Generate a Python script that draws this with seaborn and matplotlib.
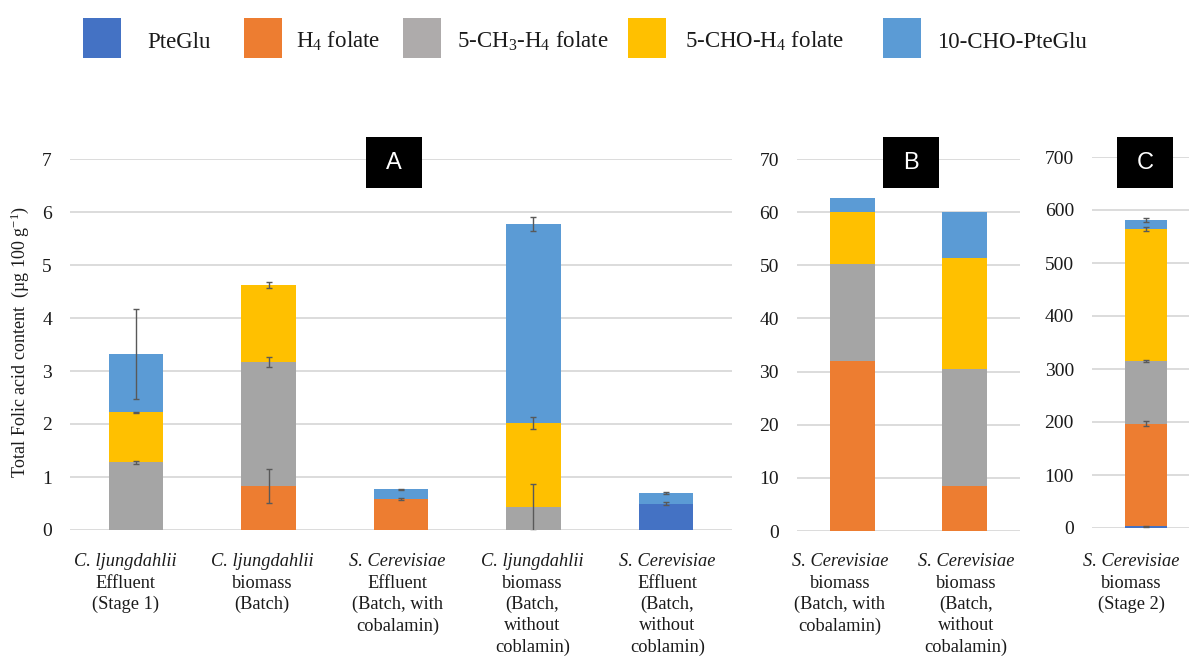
import numpy as np
import pandas as pd
import matplotlib
matplotlib.use("Agg")
import matplotlib.pyplot as plt
from matplotlib.patches import Rectangle
import seaborn as sns

# ---------------- data ----------------
series = ["PteGlu", "H$_4$ folate", "5-CH$_3$-H$_4$ folate", "5-CHO-H$_4$ folate", "10-CHO-PteGlu"]
colors = ["#4472C4", "#ED7D31", "#A5A5A5", "#FFC000", "#5B9BD5"]
legend_colors = ["#4472C4", "#ED7D31", "#AEABAB", "#FFC000", "#5B9BD5"]

cats_a = [
    "C. ljungdahlii\nEffluent\n(Stage 1)",
    "C. ljungdahlii\nbiomass\n(Batch)",
    "S. Cerevisiae\nEffluent\n(Batch, with\ncobalamin)",
    "C. ljungdahlii\nbiomass\n(Batch,\nwithout\ncoblamin)",
    "S. Cerevisiae\nEffluent\n(Batch,\nwithout\ncoblamin)",
]
# segment heights per series (PteGlu, H4, 5-CH3, 5-CHO, 10-CHO)
pteglu_a = [0.00, 0.00, 0.00, 0.00, 0.50]
h4_a     = [0.00, 0.83, 0.58, 0.00, 0.00]
ch3_a    = [1.28, 2.34, 0.00, 0.43, 0.00]
cho_a    = [0.94, 1.45, 0.00, 1.59, 0.00]
cho10_a  = [1.10, 0.00, 0.19, 3.76, 0.19]
# error (shown at segment top)
pteglu_a_err = [0, 0, 0, 0, 0.03]
h4_a_err     = [0, 0.32, 0.02, 0, 0]
ch3_a_err    = [0.03, 0.10, 0, 0.44, 0]
cho_a_err    = [0.015, 0.05, 0, 0.12, 0]
cho10_a_err  = [0.85, 0, 0.01, 0.13, 0.02]

cats_b = [
    "S. Cerevisiae\nbiomass\n(Batch, with\ncobalamin)",
    "S. Cerevisiae\nbiomass\n(Batch,\nwithout\ncobalamin)",
]
pteglu_b = [0.0, 0.0]
h4_b     = [31.9, 8.5]
ch3_b    = [18.4, 21.9]
cho_b    = [9.7, 20.9]
cho10_b  = [2.65, 8.8]

cats_c = ["S. Cerevisiae\nbiomass\n(Stage 2)"]
pteglu_c = [3]
h4_c     = [194]
ch3_c    = [118]
cho_c    = [249]
cho10_c  = [17]
pteglu_c_err = [1]
h4_c_err     = [5]
ch3_c_err    = [2]
cho_c_err    = [3]
cho10_c_err  = [3]

yticks_a = [0, 1, 2, 3, 4, 5, 6, 7]
yticks_b = [0, 10, 20, 30, 40, 50, 60, 70]
yticks_c = [0, 100, 200, 300, 400, 500, 600, 700]

# ---------------- style ----------------
sns.set_theme(style="whitegrid")
plt.rcParams["font.family"] = ["Liberation Serif", "DejaVu Serif"]
plt.rcParams["mathtext.fontset"] = "custom"
plt.rcParams["mathtext.rm"] = "Liberation Serif"
plt.rcParams["mathtext.it"] = "Liberation Serif:italic"
plt.rcParams["mathtext.bf"] = "Liberation Serif:bold"

W, H = 1189, 656
fig = plt.figure(figsize=(W / 100, H / 100), dpi=100)
fig.patch.set_facecolor("white")
TXT = "#1a1a1a"


def px_axes(x0, x1, ybot, ytop):
    return fig.add_axes([x0 / W, (H - ybot) / H, (x1 - x0) / W, (ybot - ytop) / H])


def draw_panel(ax, cats, segs, errs, width, ylim, yticks):
    n = len(cats)
    bottoms = np.zeros(n)
    for i, vals in enumerate(segs):
        vals = np.asarray(vals, dtype=float)
        df = pd.DataFrame({"cat": cats, "val": vals})
        sns.barplot(data=df, x="cat", y="val", bottom=bottoms.copy(), color=colors[i],
                    saturation=1, width=width, linewidth=0, errorbar=None, ax=ax,
                    order=cats)
        tops = bottoms + vals
        if errs is not None and errs[i] is not None:
            e = np.asarray(errs[i], dtype=float)
            m = e > 0
            if m.any():
                ax.errorbar(np.arange(n)[m], tops[m], yerr=e[m], fmt="none",
                            ecolor="#595959", elinewidth=1.0, capsize=2, capthick=1.0, zorder=5)
        bottoms = tops
    ax.set_xlim(-0.5, n - 0.5)
    ax.set_ylim(*ylim)
    ax.set_yticks(yticks)
    ax.set_yticklabels([str(t) for t in yticks], fontfamily="Liberation Serif")
    ax.set_xticks(range(n))
    ax.set_xticklabels([""] * n)
    ax.set_xlabel("")
    ax.set_ylabel("")
    for s in ax.spines.values():
        s.set_visible(False)
    ax.grid(axis="y", color="#D9D9D9", linewidth=1.3)
    ax.grid(axis="x", visible=False)
    ax.tick_params(axis="y", length=0, pad=13, labelsize=14, labelcolor=TXT)
    ax.tick_params(axis="x", length=0)


def category_labels(cats, centers_px):
    # first line italic (species), then plain lines, each centered
    for cat, cx in zip(cats, centers_px):
        for k, line in enumerate(cat.split("\n")):
            fig.text(cx / W, 1 - (566 + 21.5 * k) / H, line, ha="center", va="baseline",
                     fontsize=13.2, color=TXT, style="italic" if k == 0 else "normal")


axA = px_axes(70, 732, 530, 159)
draw_panel(axA, cats_a, [pteglu_a, h4_a, ch3_a, cho_a, cho10_a],
           [pteglu_a_err, h4_a_err, ch3_a_err, cho_a_err, cho10_a_err], 0.41, (0, 7), yticks_a)
category_labels(cats_a, [125, 262, 397.5, 532.5, 667.5])

axB = px_axes(797, 1020, 531, 159)
draw_panel(axB, cats_b, [pteglu_b, h4_b, ch3_b, cho_b, cho10_b], None, 0.40, (0, 70), yticks_b)
category_labels(cats_b, [840, 966])

axC = px_axes(1092, 1200, 528, 157)
draw_panel(axC, cats_c, [pteglu_c, h4_c, ch3_c, cho_c, cho10_c],
           [pteglu_c_err, h4_c_err, ch3_c_err, cho_c_err, cho10_c_err], 0.39, (0, 700), yticks_c)
category_labels(cats_c, [1131])

# y label
fig.text(20 / W, 1 - 342 / H, "Total Folic acid content  (µg 100 g$^{\\mathregular{-1}}$)",
         rotation=90, ha="center", va="center", fontsize=13, color=TXT)

# panel letter boxes
for letter, x0 in [("A", 366), ("B", 883), ("C", 1117)]:
    fig.patches.append(Rectangle((x0 / W, 1 - 188 / H), 56 / W, 51 / H,
                                 transform=fig.transFigure, facecolor="black",
                                 edgecolor="none", zorder=10))
    fig.text((x0 + 28) / W, 1 - 163 / H, letter, color="white", ha="center", va="center",
             fontsize=17, family="Liberation Sans", zorder=11)

# legend (Excel-style, tall square keys)
for lab, col, px, tx in zip(series, legend_colors,
                            [83, 244, 403, 628, 883], [147, 296, 457, 685, 937]):
    fig.patches.append(Rectangle((px / W, 1 - 58 / H), 38 / W, 40 / H,
                                 transform=fig.transFigure, facecolor=col, edgecolor="none"))
    fig.text(tx / W, 1 - 48 / H, lab, ha="left", va="baseline", fontsize=16.5, color=TXT)

fig.savefig("out.png", dpi=100, facecolor="white")
